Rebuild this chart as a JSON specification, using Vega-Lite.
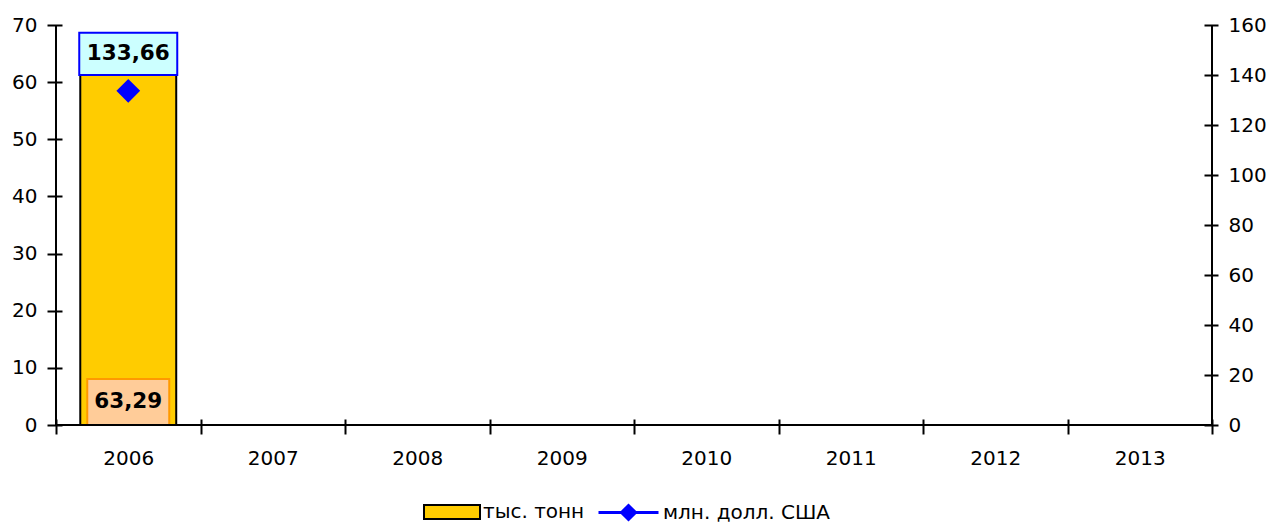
{
  "$schema": "https://vega.github.io/schema/vega-lite/v6.json",
  "width": 1156,
  "height": 400,
  "autosize": {"type": "none"},
  "padding": {"left": 56, "top": 25, "right": 62, "bottom": 99},
  "background": "white",
  "data": {"values": [{"year": "2006", "tons": 63.29, "usd": 133.66}]},
  "config": {
    "view": {"stroke": null},
    "font": "DejaVu Sans",
    "locale": {"number": {"decimal": ",", "thousands": " ", "grouping": [3], "currency": ["", ""]}},
    "axis": {"domain": false, "grid": false, "labelFontSize": 20, "labelColor": "black", "tickColor": "black", "tickWidth": 2, "tickSize": 15},
    "axisBottom": {"offset": -6, "labelPadding": 14, "tickBand": "extent", "labelAngle": 0},
    "axisLeft": {"offset": -6, "labelPadding": 10},
    "axisRight": {"offset": -8, "labelPadding": 10, "tickSize": 14}
  },
  "layer": [
    {
      "layer": [
        {
          "mark": {"type": "bar", "stroke": "black", "strokeWidth": 2, "width": {"band": 0.664}},
          "encoding": {
            "x": {"field": "year", "type": "nominal", "title": null,
              "scale": {"domain": ["2006", "2007", "2008", "2009", "2010", "2011", "2012", "2013"], "paddingInner": 0, "paddingOuter": 0}},
            "y": {"field": "tons", "type": "quantitative", "title": null,
              "scale": {"domain": [0, 70], "nice": false},
              "axis": {"values": [0, 10, 20, 30, 40, 50, 60, 70]}},
            "fill": {
              "datum": "тыс. тонн", "type": "nominal",
              "scale": {"domain": ["тыс. тонн"], "range": ["#FFCC00"]},
              "legend": {
                "orient": "none", "legendX": 367, "legendY": 458, "title": null,
                "symbolType": "M-1,-0.25H1V0.25H-1Z", "symbolSize": 3136,
                "symbolStrokeColor": "black", "symbolStrokeWidth": 2, "symbolOpacity": 1,
                "labelFontSize": 20, "labelFont": "DejaVu Sans", "labelColor": "black",
                "labelOffset": 2, "labelLimit": 400, "padding": 0
              }
            }
          }
        },
        {
          "mark": {"type": "point", "shape": "M-1,-0.56H1V0.56H-1Z", "size": 6724, "filled": true, "fill": "#FFCC99", "stroke": "#FF9900", "strokeWidth": 2, "opacity": 1, "yOffset": -23},
          "encoding": {
            "x": {"field": "year", "type": "nominal", "title": null},
            "y": {"datum": 0, "type": "quantitative", "title": null, "axis": {"values": [0, 10, 20, 30, 40, 50, 60, 70]}}
          }
        },
        {
          "mark": {"type": "text", "fontWeight": "bold", "fontSize": 21.5, "yOffset": -23, "baseline": "middle", "align": "center", "color": "black"},
          "encoding": {
            "x": {"field": "year", "type": "nominal", "title": null},
            "y": {"datum": 0, "type": "quantitative", "title": null, "axis": {"values": [0, 10, 20, 30, 40, 50, 60, 70]}},
            "text": {"field": "tons", "type": "quantitative", "format": ".2f"}
          }
        },
        {
          "mark": {"type": "rule", "color": "black", "strokeWidth": 2},
          "encoding": {
            "y": {"datum": 0, "type": "quantitative", "title": null, "axis": {"values": [0, 10, 20, 30, 40, 50, 60, 70]}}
          }
        },
        {
          "mark": {"type": "rule", "color": "black", "strokeWidth": 2},
          "encoding": {
            "x": {"datum": "2006", "type": "nominal", "bandPosition": 0, "title": null}
          }
        },
        {
          "mark": {"type": "rule", "color": "black", "strokeWidth": 2},
          "encoding": {
            "x": {"datum": "2013", "type": "nominal", "bandPosition": 1, "title": null}
          }
        }
      ]
    },
    {
      "layer": [
        {
          "mark": {"type": "line", "strokeWidth": 3, "point": {"shape": "diamond", "size": 441, "filled": true, "fill": "#0000FF", "opacity": 1}},
          "encoding": {
            "x": {"field": "year", "type": "nominal", "title": null},
            "y": {"field": "usd", "type": "quantitative", "title": null,
              "scale": {"domain": [0, 160], "nice": false},
              "axis": {"orient": "right", "values": [0, 20, 40, 60, 80, 100, 120, 140, 160]}},
            "stroke": {
              "datum": "млн. долл. США", "type": "nominal",
              "scale": {"domain": ["млн. долл. США"], "range": ["#0000FF"]},
              "legend": {
                "orient": "none", "legendX": 541, "legendY": 456, "title": null,
                "symbolType": "M-1,0H1M-0.233,0L0,-0.233L0.233,0L0,0.233Z", "symbolSize": 3600,
                "symbolFillColor": "#0000FF", "symbolStrokeColor": "#0000FF", "symbolStrokeWidth": 3, "symbolOpacity": 1,
                "labelFontSize": 20, "labelFont": "DejaVu Sans", "labelColor": "black",
                "labelOffset": 3, "labelLimit": 400, "padding": 0
              }
            }
          }
        },
        {
          "mark": {"type": "point", "shape": "M-1,-0.43H1V0.43H-1Z", "size": 9604, "filled": true, "fill": "#CCFFFF", "stroke": "#0000FF", "strokeWidth": 2, "opacity": 1, "yOffset": -37},
          "encoding": {
            "x": {"field": "year", "type": "nominal", "title": null},
            "y": {"field": "usd", "type": "quantitative", "title": null,
              "axis": {"orient": "right", "values": [0, 20, 40, 60, 80, 100, 120, 140, 160]}}
          }
        },
        {
          "mark": {"type": "text", "fontWeight": "bold", "fontSize": 21.5, "yOffset": -37, "baseline": "middle", "align": "center", "color": "black"},
          "encoding": {
            "x": {"field": "year", "type": "nominal", "title": null},
            "y": {"field": "usd", "type": "quantitative", "title": null,
              "axis": {"orient": "right", "values": [0, 20, 40, 60, 80, 100, 120, 140, 160]}},
            "text": {"field": "usd", "type": "quantitative", "format": ".2f"}
          }
        }
      ]
    }
  ],
  "resolve": {"scale": {"y": "independent"}}
}
